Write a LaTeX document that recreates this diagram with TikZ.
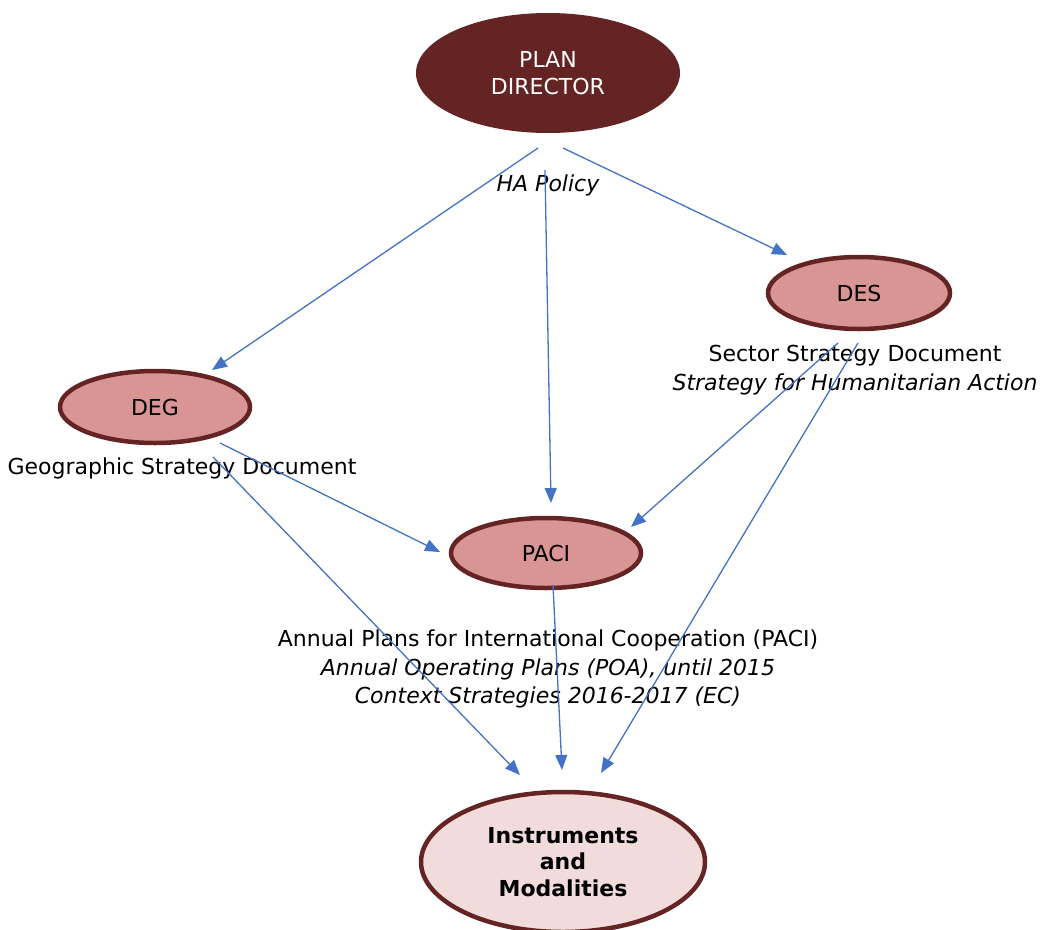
\documentclass[tikz,border=0pt]{standalone}
\usepackage{fontspec}
\setmainfont{DejaVu Sans}
\usetikzlibrary{shapes.geometric,arrows.meta}
\definecolor{darkred}{HTML}{632423}
\definecolor{midred}{HTML}{D99594}
\definecolor{lightred}{HTML}{F2DCDB}
\definecolor{arrowblue}{HTML}{4472C4}
\tikzset{
  oval/.style={ellipse, draw=darkred, line width=4.5pt, inner sep=0pt, align=center, font=\fontsize{22}{26}\selectfont},
  conn/.style={draw=arrowblue, line width=1.3pt, -{Triangle[length=15pt,width=12pt]}},
  lbl/.style={align=center, font=\fontsize{22}{28.5}\selectfont},
}
\begin{document}
\begin{tikzpicture}[x=1pt,y=-1pt]
\useasboundingbox (0,0) rectangle (1041,929);
% nodes
\node[ellipse, fill=darkred, inner sep=0pt, minimum width=264pt, minimum height=120pt, align=center, text=white, font=\fontsize{22}{27}\selectfont] (plan) at (548,73) {PLAN\\DIRECTOR};
\node[oval, fill=midred, minimum width=182pt, minimum height=72pt] (des) at (859,293) {DES};
\node[oval, fill=midred, minimum width=190pt, minimum height=72pt] (deg) at (155,407) {DEG};
\node[oval, fill=midred, minimum width=190pt, minimum height=70pt] (paci) at (546,553) {PACI};
\node[oval, fill=lightred, minimum width=284pt, minimum height=140pt, font=\fontsize{22}{26.5}\selectfont\bfseries] (inst) at (563,862) {Instruments\\and\\Modalities};
% labels
\node[lbl, font=\fontsize{22}{26}\selectfont\itshape] (ha) at (548,185) {HA Policy};
\node[lbl] (sector) at (855,370) {Sector Strategy Document\\\textit{Strategy for Humanitarian Action}};
\node[lbl] (geo) at (182,468) {Geographic Strategy Document};
\node[lbl] (annual) at (548,669) {Annual Plans for International Cooperation (PACI)\\\textit{Annual Operating Plans (POA), until 2015}\\\textit{Context Strategies 2016-2017 (EC)}};
% connector end coordinates
\coordinate (p1) at (538,148);
\coordinate (p2) at (545,170);
\coordinate (p3) at (563,148);
\coordinate (e1) at (212,370);
\coordinate (e2) at (551,503);
\coordinate (e3) at (787,255);
\coordinate (s1) at (838,343);
\coordinate (s2) at (858,343);
\coordinate (e4) at (631,527);
\coordinate (e5) at (601,773);
\coordinate (g1) at (220,443);
\coordinate (g2) at (213,457);
\coordinate (e6) at (440,552);
\coordinate (e7) at (520,775);
\coordinate (c1) at (553,585);
\coordinate (e8) at (562,770);
% connectors
\draw[conn] (p1) -- (e1);
\draw[conn] (p2) -- (e2);
\draw[conn] (p3) -- (e3);
\draw[conn] (s1) -- (e4);
\draw[conn] (s2) -- (e5);
\draw[conn] (g1) -- (e6);
\draw[conn] (g2) -- (e7);
\draw[conn] (c1) -- (e8);
\end{tikzpicture}
\end{document}
